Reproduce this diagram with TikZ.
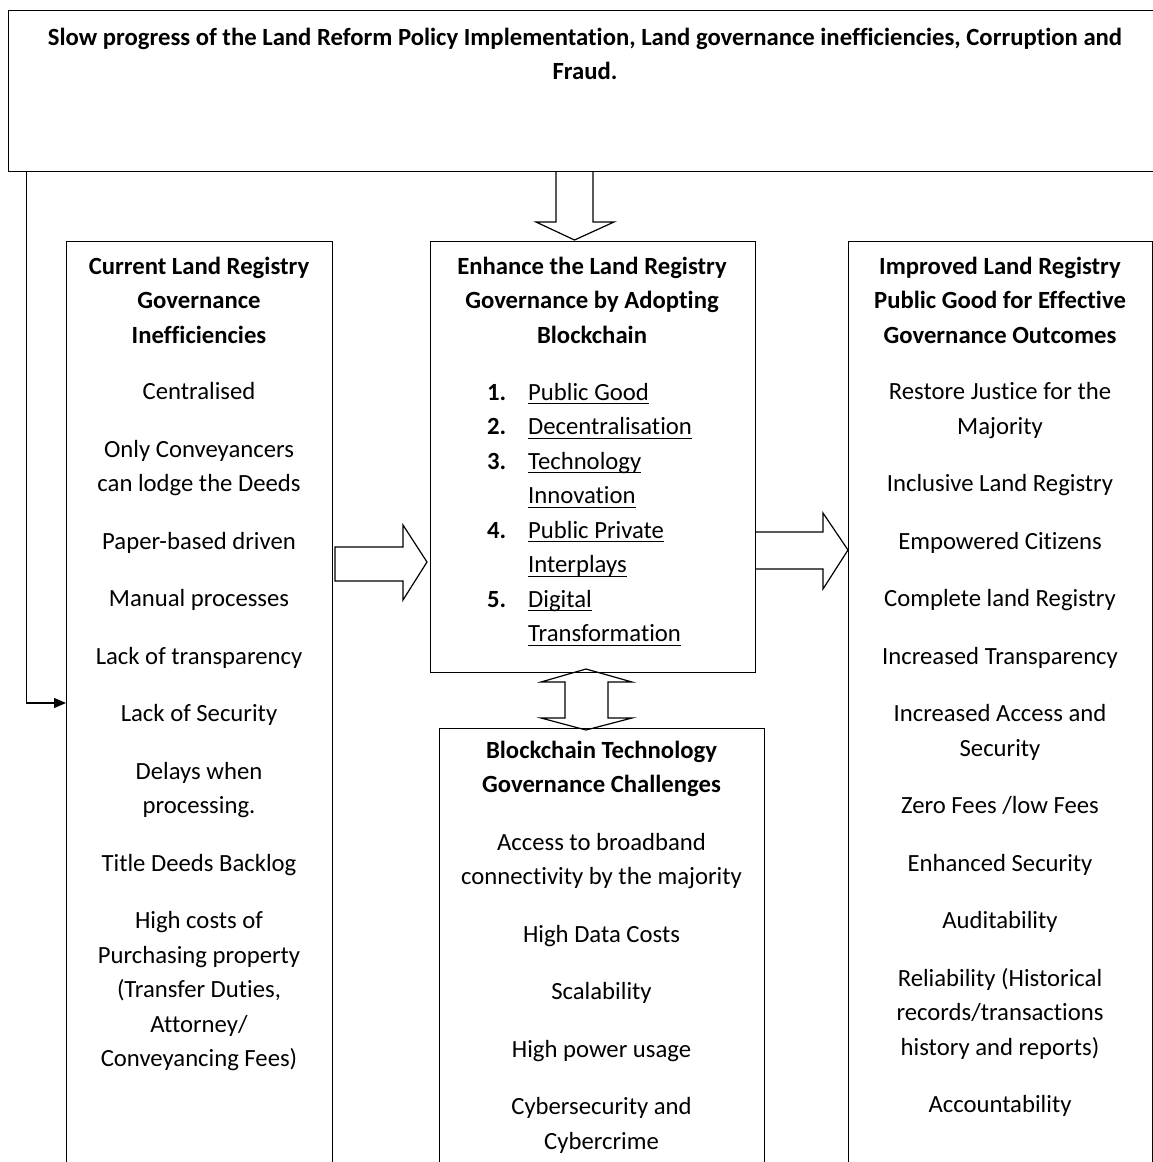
\documentclass[tikz,border=0pt]{standalone}
\usepackage{fontspec}
\setmainfont{Carlito}[Ligatures=NoCommon]
\usetikzlibrary{calc,arrows.meta}
\newcommand\myfs{\fontsize{24.7}{34.5}\selectfont}
\newsavebox\myulbox
\newcommand\myul[1]{\sbox\myulbox{#1}\rlap{\rule[-4pt]{\wd\myulbox}{1.2pt}}\usebox\myulbox}
\newcommand\numlab[1]{\makebox[41pt][l]{\textbf{#1}}}
\newcommand\numgap{\makebox[41pt][l]{}}
\tikzset{
  box/.style={draw, line width=1.2pt, inner sep=0pt, anchor=north west},
  txt/.style={inner sep=0pt, align=center, font=\myfs, anchor=north},
  blk/.style={draw, line width=1.2pt, line join=miter},
  conn/.style={draw, line width=1.2pt, -{Triangle[length=12pt,width=10pt]}},
}
\begin{document}
\begin{tikzpicture}[x=1pt,y=-1pt]
\useasboundingbox (0,0) rectangle (1153,1162);
\clip (0,0) rectangle (1153,1162);
% boxes
\node[box, minimum width=1162pt, minimum height=161pt] (top) at (8,10) {};
\node[box, minimum width=266pt, minimum height=1000pt] (left) at (66,241) {};
\node[box, minimum width=325pt, minimum height=431pt] (mid) at (430,241) {};
\node[box, minimum width=304pt, minimum height=1000pt] (right) at (848,241) {};
\node[box, minimum width=325pt, minimum height=500pt] (bot) at (439,728) {};
% texts
\node[txt, font=\myfs\bfseries] (toptxt) at (585,21) {\strut Slow progress of the Land Reform Policy Implementation, Land governance inefficiencies, Corruption and\\Fraud.};
\node[txt] (lefttxt) at (199,250) {\strut\textbf{Current Land Registry}\\\textbf{Governance}\\\textbf{Inefficiencies}\\[22pt]
Centralised\\[23pt]
Only Conveyancers\\can lodge the Deeds\\[23pt]
Paper-based driven\\[23pt]
Manual processes\\[23pt]
Lack of transparency\\[23pt]
Lack of Security\\[23pt]
Delays when\\processing.\\[23pt]
Title Deeds Backlog\\[23pt]
High costs of\\Purchasing property\\(Transfer Duties,\\Attorney/\\Conveyancing Fees)};
\node[txt] (midhead) at (592,250) {\strut\textbf{Enhance the Land Registry}\\\textbf{Governance by Adopting}\\\textbf{Blockchain}};
\node[inner sep=0pt, align=left, font=\myfs, anchor=north west] (midlist) at (487,376) {\strut\numlab{1.}\myul{Public Good}\\
\numlab{2.}\myul{Decentralisation}\\
\numlab{3.}\myul{Technology}\\
\numgap\myul{Innovation}\\
\numlab{4.}\myul{Public Private}\\
\numgap\myul{Interplays}\\
\numlab{5.}\myul{Digital}\\
\numgap\myul{Transformation}};
\node[txt] (righttxt) at (1000,250) {\strut\textbf{Improved Land Registry}\\\textbf{Public Good for Effective}\\\textbf{Governance Outcomes}\\[22pt]
Restore Justice for the\\Majority\\[23pt]
Inclusive Land Registry\\[23pt]
Empowered Citizens\\[23pt]
Complete land Registry\\[23pt]
Increased Transparency\\[23pt]
Increased Access and\\Security\\[23pt]
Zero Fees /low Fees\\[23pt]
Enhanced Security\\[23pt]
Auditability\\[23pt]
Reliability (Historical\\records/transactions\\history and reports)\\[23pt]
Accountability};
\node[txt] (bottxt) at (601.5,734) {\strut\textbf{Blockchain Technology}\\\textbf{Governance Challenges}\\[23pt]
Access to broadband\\connectivity by the majority\\[23pt]
High Data Costs\\[23pt]
Scalability\\[23pt]
High power usage\\[23pt]
Cybersecurity and\\Cybercrime};
% block arrows
\draw[blk] (556,171) -- (556,222) -- (536,222) -- (574.5,240) -- (614,222) -- (593,222) -- (593,171);
\draw[blk] (335,547) -- (403,547) -- (403,525) -- (427,562) -- (403,600) -- (403,581) -- (335,581) -- cycle;
\draw[blk] (755,532) -- (823,532) -- (823,513) -- (848,550) -- (823,589) -- (823,569) -- (755,569);
\draw[blk] (586,669) -- (632,682) -- (608,682) -- (608,718) -- (632,718) -- (586,730) -- (541,718) -- (565,718) -- (565,682) -- (541,682) -- cycle;
% connector
\coordinate (ltip) at (66,703);
\draw[conn] ([xshift=18.5pt]top.south west) |- (left.west |- ltip);
\end{tikzpicture}
\end{document}
